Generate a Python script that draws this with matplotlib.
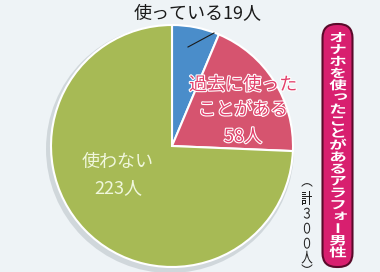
import matplotlib.pyplot as plt
import matplotlib.patheffects as pe
from matplotlib.patches import Circle, FancyBboxPatch, PathPatch
from matplotlib.textpath import TextPath
from matplotlib.font_manager import FontProperties
from matplotlib.transforms import Affine2D

plt.rcParams['font.family'] = ['Noto Sans CJK JP', 'DejaVu Sans']

# data
labels = ["使っている", "過去に使った\nことがある", "使わない"]
counts = [19, 58, 223]
colors = ["#4a8dca", "#d6546f", "#a7ba55"]
title = "オナホを使ったことがあるアラフォー男性"
total_note = "（計３００人）"

W, H = 380, 272
fig = plt.figure(figsize=(W / 100, H / 100), dpi=100)
fig.patch.set_facecolor("#eef3f6")
ax = fig.add_axes([0, 0, 1, 1])
ax.set_facecolor("#eef3f6")

cx, cy, r = 172, H - 146, 121

# soft shadow behind the pie
ax.add_patch(Circle((cx - 2, cy - 3), r + 3, color="#9aa4aa", alpha=0.35, lw=0, zorder=0))

ax.pie(counts, colors=colors, startangle=90, counterclock=False,
       center=(cx, cy), radius=r, frame=True,
       wedgeprops=dict(edgecolor="white", linewidth=1.5))
ax.set_xlim(0, W)
ax.set_ylim(0, H)
ax.set_aspect("equal")
ax.axis("off")


def y(p):
    return H - p


def vchar(x, cy_px, ch, em, sx, sy, color, weight="normal", z=4):
    # one glyph of vertical text, centred on (x, cy_px) in pixel coords
    fp = FontProperties(family="Noto Sans CJK JP", weight=weight)
    tp = TextPath((0, 0), ch, size=em, prop=fp)
    if ch in "ー（）":
        # rotate around the glyph's own centre
        ext = tp.get_extents()
        t = Affine2D().translate(-(ext.x0 + ext.x1) / 2, -(ext.y0 + ext.y1) / 2)
        t = t.rotate_deg(-90)
    else:
        t = Affine2D().translate(-em / 2, -0.38 * em)
        if ch in "っォ":
            t = t.translate(0.14 * em, 0.14 * em)
    t = t.scale(sx, sy).translate(x, y(cy_px))
    ax.add_patch(PathPatch(t.transform_path(tp), facecolor=color, lw=0, zorder=z))


# top label with leader line
ax.text(198, y(14), f"{labels[0]}{counts[0]}人", ha="center", va="center",
        fontsize=13, color="#1a1a1a")
ax.plot([188, 214], [y(47), y(33)], color="#1a1a1a", lw=0.8)

# pink label
pink_fx = [pe.withStroke(linewidth=1.6, foreground="white")]
for line, py in zip(labels[1].split("\n") + [f"{counts[1]}人"], [85, 110, 137]):
    ax.text(243, y(py), line, ha="center", va="center",
            fontsize=13, color="#e2406b", path_effects=pink_fx)

# green label
ax.text(118, y(162), labels[2], ha="center", va="center",
        fontsize=13, color="#f0f7dc")
ax.text(118, y(188), f"{counts[2]}人", ha="center", va="center",
        fontsize=13, color="#f0f7dc")

# vertical title box
ax.add_patch(FancyBboxPatch((322.5, y(267)), 30, 243,
                            boxstyle="round,pad=0,rounding_size=14",
                            facecolor="#d81f6f", edgecolor="#5a0a2a", lw=1.5, zorder=3))
step = 215 / (len(title) - 1)
for i, ch in enumerate(title):
    vchar(338, 37 + i * step, ch, 17.5, 1.0, 0.68, "white", weight="bold")

# vertical total note
note_y = [185, 198, 213, 228, 243, 257, 266]
for ch, py in zip(total_note, note_y):
    vchar(307, py, ch, 14.5, 0.8, 1.0, "#222222")

fig.savefig("out.png", dpi=100, facecolor=fig.get_facecolor())
